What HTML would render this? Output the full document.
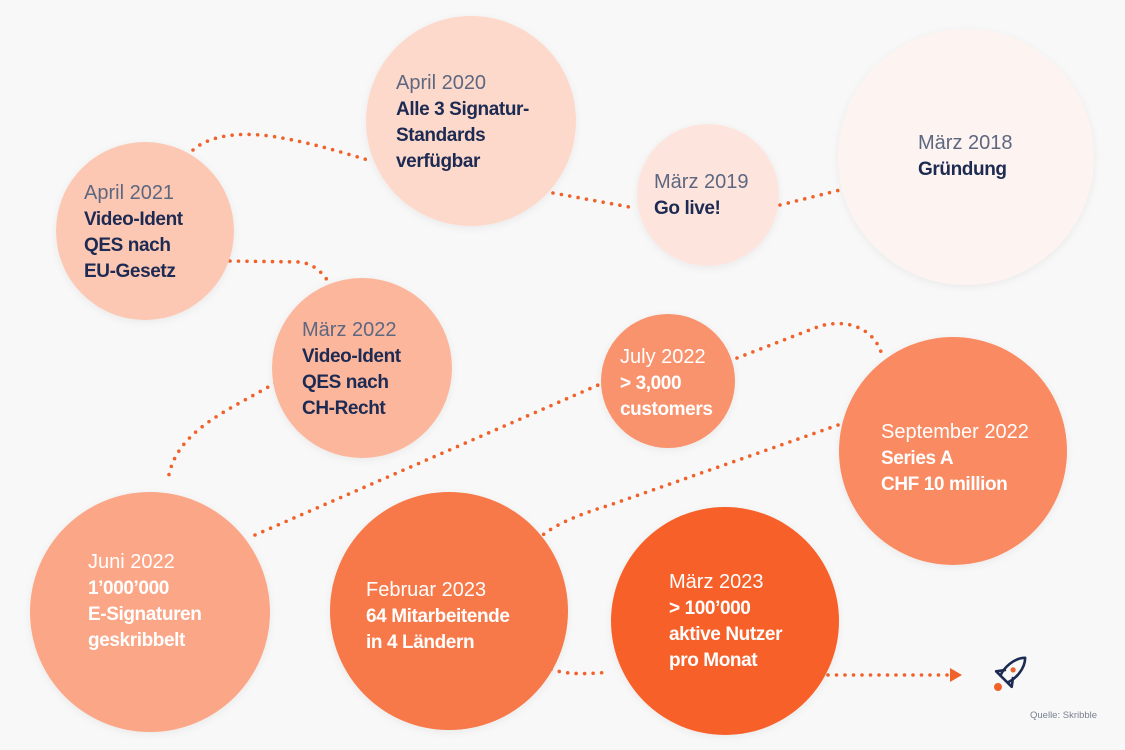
<!DOCTYPE html>
<html><head><meta charset="utf-8"><style>
html,body{margin:0;padding:0;background:#f8f8f8;}
svg{display:block;}
.d{font-family:"Liberation Sans",sans-serif;font-size:20px;fill:#5e6780;}
.b{font-family:"Liberation Sans",sans-serif;font-size:19px;font-weight:bold;fill:#1d2a52;letter-spacing:-0.4px;}
.w .d{fill:#fff;} .w .b{fill:#fff;}
.dot{fill:none;stroke:#f0622a;stroke-width:3.6;stroke-linecap:round;stroke-dasharray:0 8.5;}
</style></head><body>
<svg width="1125" height="750" viewBox="0 0 1125 750" xmlns="http://www.w3.org/2000/svg">
<defs><filter id="sh" x="-20%" y="-20%" width="140%" height="140%"><feDropShadow dx="0" dy="2" stdDeviation="4" flood-color="#000" flood-opacity="0.06"/></filter></defs>
<rect width="1125" height="750" fill="#f8f8f8"/>
<!-- connectors -->
<path class="dot" d="M193,150 C210,135 240,132 270,136 C310,142 340,152 368,160"/>
<path class="dot" d="M553,193 L635,208"/>
<path class="dot" d="M780,205 L840,190"/>
<path class="dot" d="M230,261 L300,262 C315,264 325,275 330,285"/>
<path class="dot" d="M275,383 C230,410 175,430 168,480"/>
<path class="dot" d="M255,535 L605,382"/>
<path class="dot" d="M737,358 L820,326 C850,318 875,330 882,355"/>
<path class="dot" d="M838,425 L610,505 C560,520 535,535 527,555"/>
<path class="dot" d="M537,660 C550,675 580,675 610,672"/>
<path class="dot" d="M828,675 L950,675"/>
<polygon points="950,668 962,675 950,682" fill="#f0622a"/>
<!-- circles -->
<g filter="url(#sh)">
<circle cx="966" cy="157" r="128" fill="#fdf3f0"/>
<circle cx="471" cy="121" r="105" fill="#fdd9cb"/>
<circle cx="708" cy="195" r="71" fill="#fde5de"/>
<circle cx="145" cy="231" r="89" fill="#fcc8b3"/>
<circle cx="362" cy="368" r="90" fill="#fbb69c"/>
<circle cx="668" cy="381" r="67" fill="#f8936e"/>
<circle cx="953" cy="451" r="114" fill="#f98a62"/>
<circle cx="150" cy="612" r="120" fill="#fba686"/>
<circle cx="449" cy="611" r="119" fill="#f7784a"/>
<circle cx="725" cy="621" r="114" fill="#f8612b"/>
</g>
<!-- texts -->
<text class="d" x="396" y="89">April 2020</text>
<text class="b" x="396" y="115">Alle 3 Signatur-</text>
<text class="b" x="396" y="141">Standards</text>
<text class="b" x="396" y="167">verfügbar</text>

<text class="d" x="654" y="188">März 2019</text>
<text class="b" x="654" y="214">Go live!</text>

<text class="d" x="918" y="149">März 2018</text>
<text class="b" x="918" y="175">Gründung</text>

<text class="d" x="84" y="199">April 2021</text>
<text class="b" x="84" y="225">Video-Ident</text>
<text class="b" x="84" y="251">QES nach</text>
<text class="b" x="84" y="277">EU-Gesetz</text>

<text class="d" x="302" y="336">März 2022</text>
<text class="b" x="302" y="362">Video-Ident</text>
<text class="b" x="302" y="388">QES nach</text>
<text class="b" x="302" y="414">CH-Recht</text>

<g class="w">
<text class="d" x="620" y="363">July 2022</text>
<text class="b" x="620" y="389">&gt; 3,000</text>
<text class="b" x="620" y="415">customers</text>

<text class="d" x="881" y="438">September 2022</text>
<text class="b" x="881" y="464">Series A</text>
<text class="b" x="881" y="490">CHF 10 million</text>

<text class="d" x="88" y="568">Juni 2022</text>
<text class="b" x="88" y="594">1’000’000</text>
<text class="b" x="88" y="620">E-Signaturen</text>
<text class="b" x="88" y="646">geskribbelt</text>

<text class="d" x="366" y="596">Februar 2023</text>
<text class="b" x="366" y="622">64 Mitarbeitende</text>
<text class="b" x="366" y="648">in 4 Ländern</text>

<text class="d" x="669" y="588">März 2023</text>
<text class="b" x="669" y="614">&gt; 100’000</text>
<text class="b" x="669" y="640">aktive Nutzer</text>
<text class="b" x="669" y="666">pro Monat</text>
</g>
<!-- rocket -->
<g transform="translate(1011,672) rotate(45)" fill="none" stroke="#1d2a52" stroke-width="2.6" stroke-linejoin="round">
<path d="M0,-20 C8,-12 8,2 5,10 L-5,10 C-8,2 -8,-12 0,-20 Z"/>
<path d="M-5,2 L-11,10 L-5,10 M5,2 L11,10 L5,10"/>
<circle cx="0" cy="-3" r="2.6" fill="#f0622a" stroke="none"/>
</g>
<circle cx="998" cy="687" r="4" fill="#f0622a"/>
<text x="1030" y="718" font-family="Liberation Sans,sans-serif" font-size="9.5" fill="#7a8090">Quelle: Skribble</text>
</svg>
</body></html>
